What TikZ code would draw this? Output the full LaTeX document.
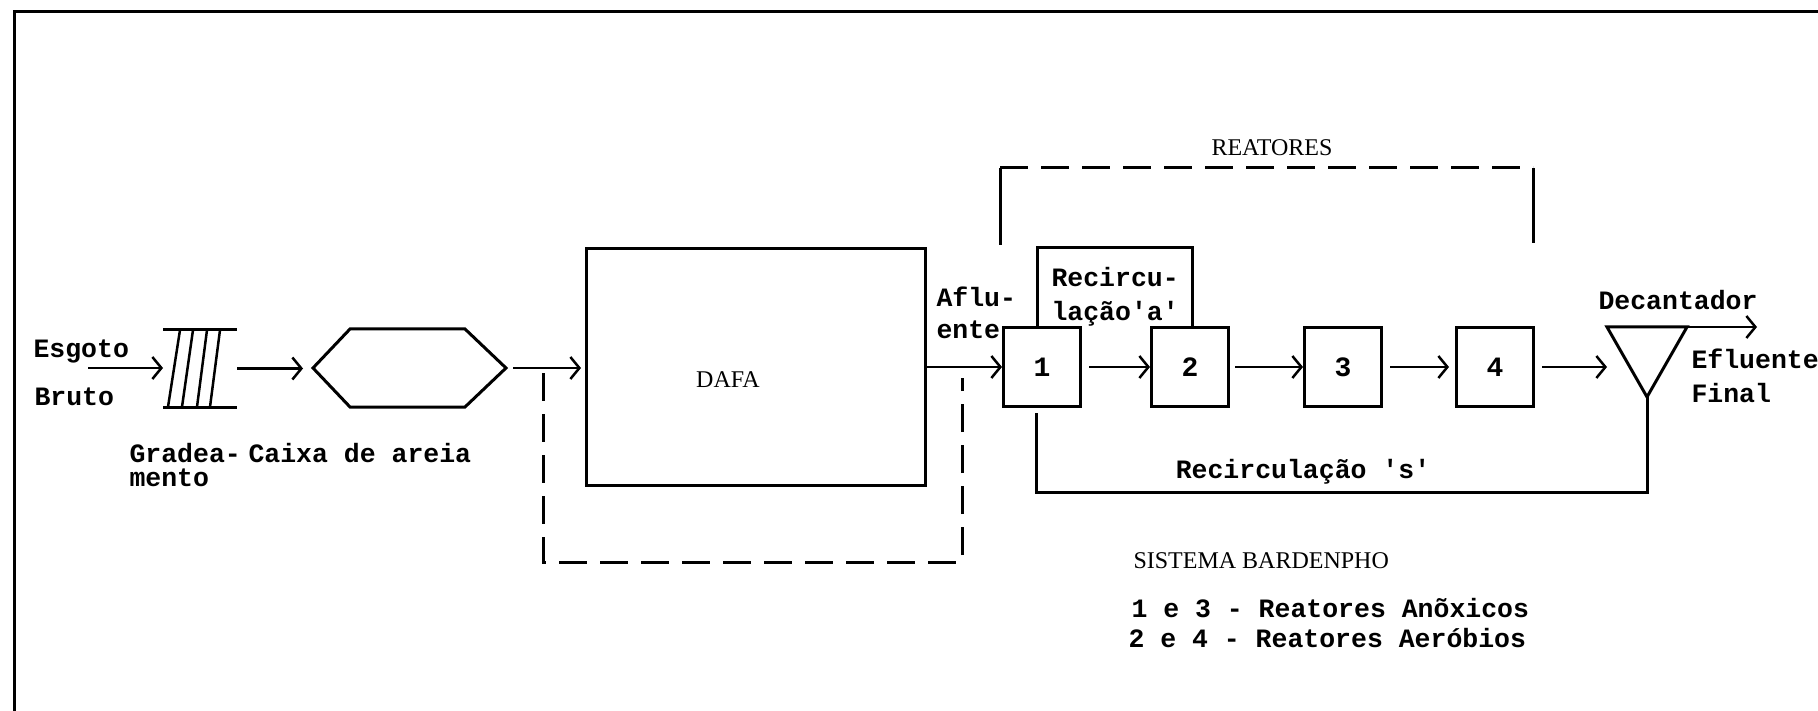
\documentclass[tikz,border=0pt]{standalone}
\usepackage{fontspec}
\setmainfont{Liberation Serif}
\setmonofont{Liberation Mono}
\usetikzlibrary{arrows.meta,calc}
\begin{document}
\begin{tikzpicture}[x=1pt,y=-1pt,
  line width=3pt,
  mtxt/.style={font=\ttfamily\bfseries\fontsize{26.5}{26.5}\selectfont, inner sep=0pt, anchor=base west},
  stxt/.style={font=\fontsize{24}{24}\selectfont, inner sep=0pt},
  rbox/.style={draw, line width=3pt, minimum width=77pt, minimum height=79pt, inner sep=0pt, font=\ttfamily\bfseries\fontsize{28}{28}\selectfont},
  flow/.style={-{Straight Barb[length=9pt,width=22pt,line width=2.5pt]}, line width=2.5pt},
  dsh/.style={dash pattern=on 28pt off 13pt, line width=3pt},
  ghost/.style={inner sep=0pt, outer sep=0pt},
]
\useasboundingbox (0,0) rectangle (1818,711);
\fill[white] (0,0) rectangle (1818,711);

% frame
\coordinate (fbl) at (14,711);
\coordinate (ftl) at (14,12);
\coordinate (ftr) at (1818,12);
\draw (fbl) -- (ftl) -- (ftr);

% input
\node[mtxt] (esg) at (32,357) {Esgoto};
\node[mtxt] (bru) at (33,405) {Bruto};
\coordinate (in) at (88,368);

% grating
\node[ghost, minimum width=74pt, minimum height=77pt] (grade) at (200,368.5) {};
\draw (grade.north west) -- (grade.north east);
\draw (grade.south west) -- (grade.south east);
\foreach \t/\b in {17/5,30/19,44/34,57/47}{
  \draw[line width=2.5pt] ($(grade.north west)+(\t,0)$) -- ($(grade.south west)+(\b,0)$);
}
\draw[flow] (in) -- (in -| grade.west);
\node[mtxt] (grad1) at (128,462) {Gradea-};
\node[mtxt] (grad2) at (128,486) {mento};

% grit chamber
\node[ghost, minimum width=193pt, minimum height=78pt] (caixa) at (409.5,368) {};
\draw (caixa.west) -- ($(caixa.north west)+(37,0)$) -- ($(caixa.north east)+(-41,0)$)
  -- (caixa.east) -- ($(caixa.south east)+(-41,0)$) -- ($(caixa.south west)+(37,0)$) -- cycle;
\draw[flow, shorten >=10pt] (grade.east) -- (grade.east -| caixa.west);
\node[mtxt] (cx) at (247,462) {Caixa de areia};

% DAFA
\node[draw, ghost, minimum width=339pt, minimum height=236pt] (dafa) at (755.5,367) {};
\node[stxt] (dafat) at (728,380) {DAFA};
\draw[flow, shorten <=7pt, shorten >=5pt] (caixa.east) -- (caixa.east -| dafa.west);

% bypass
\coordinate (bp1) at (543,373);
\coordinate (bpA) at (543,562);
\coordinate (bpB) at (962,562);
\coordinate (bp2) at (962,378);
\draw[dsh] (bp1) -- (bpA) -- (bpB) -- (bp2);

% reactors
\node[rbox] (r1) at (1042,367) {1};
\node[rbox] (r2) at (1190,367) {2};
\node[rbox] (r3) at (1343,367) {3};
\node[rbox] (r4) at (1495,367) {4};
\draw[flow] (dafa.east |- r1.west) -- (r1.west);
\node[mtxt] (afl1) at (935,307) {Aflu-};
\node[mtxt] (afl2) at (935,338) {ente};
\draw[flow, shorten <=7pt] (r1) -- (r2);
\draw[flow, shorten <=5pt] (r2) -- (r3);
\draw[flow, shorten <=7pt, shorten >=6pt] (r3) -- (r4);

% decanter
\node[ghost, minimum width=80pt, minimum height=70pt] (dec) at (1647,362) {};
\draw (dec.north west) -- (dec.north east) -- (dec.south) -- cycle;
\draw[flow, shorten <=7pt] (r4.east) -- (r4.east -| dec.west);
\coordinate (out) at (1757,327);
\draw[flow] (dec.north east) -- (out);
\node[mtxt] (dect) at (1597,310) {Decantador};
\node[mtxt] (efl1) at (1690,368) {Efluente};
\node[mtxt] (efl2) at (1690,402) {Final};

% recirculation s
\coordinate (rs1) at (1645,492);
\coordinate (rs2) at (1036,492);
\coordinate (rs3) at (1036,413);
\draw (dec.south) -- (dec.south |- rs1) -- (rs2) -- (rs3);
\node[mtxt, anchor=base] (rst) at (1303,478) {Recirculação 's'};

% recirculation a
\coordinate (raR) at (1192,248);
\coordinate (raL) at (1037,248);
\draw (r2.north -| raR) -- (raR) -- (raL) -- (raL |- r1.north);
\node[mtxt] (rat1) at (1050,287) {Recircu-};
\node[mtxt] (rat2) at (1050,320) {lação'a'};

% reactors bracket
\coordinate (bkL) at (1000,245);
\coordinate (bkLt) at (1000,168);
\coordinate (bkRt) at (1533,168);
\coordinate (bkR) at (1533,243);
\draw (bkL) -- (bkLt);
\draw[dsh] (bkLt) -- (bkRt);
\draw (bkRt) -- (bkR);
\node[stxt] (reat) at (1272,148) {REATORES};

% legend
\node[stxt, anchor=base west] (sis) at (1132,568) {SISTEMA BARDENPHO};
\node[mtxt] (lg1) at (1130,617) {1 e 3 - Reatores Anõxicos};
\node[mtxt] (lg2) at (1127,647) {2 e 4 - Reatores Aeróbios};
\end{tikzpicture}
\end{document}
